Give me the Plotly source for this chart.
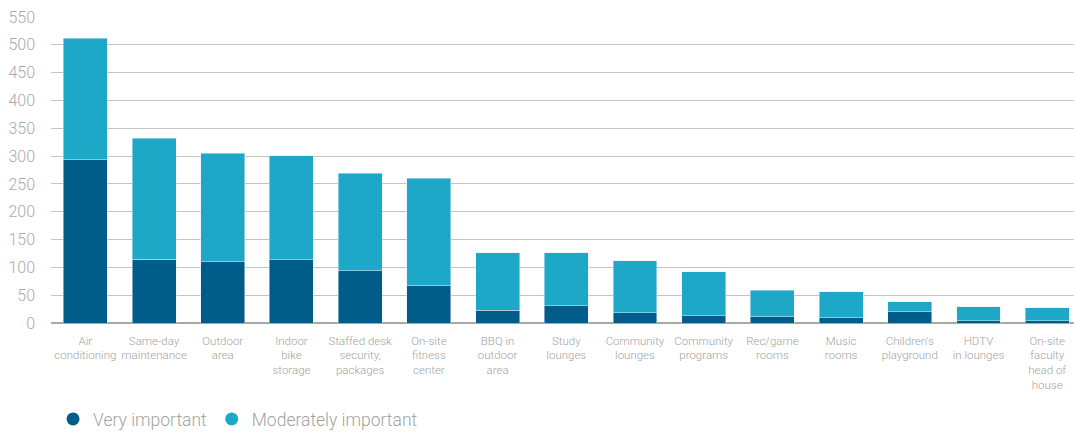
import plotly.graph_objects as go

amenities = [
    "Air<br>conditioning", "Same-day<br>maintenance", "Outdoor<br>area",
    "Indoor<br>bike<br>storage", "Staffed desk<br>security,<br>packages",
    "On-site<br>fitness<br>center", "BBQ in<br>outdoor<br>area", "Study<br>lounges",
    "Community<br>lounges", "Community<br>programs", "Rec/game<br>rooms",
    "Music<br>rooms", "Children's<br>playground", "HDTV<br>in lounges",
    "On-site<br>faculty<br>head of<br>house",
]
very_important = [293, 115, 110, 114, 94, 67, 23, 31, 18, 13, 11, 9, 20, 4, 4]
moderately_important = [219, 217, 195, 187, 175, 193, 103, 95, 94, 79, 48, 47, 18, 25, 23]

dark = "#005c88"
light = "#1ea8c8"
grey = "#a3a3a3"

fig = go.Figure()
fig.add_trace(go.Bar(x=amenities, y=very_important, name="Very important",
                     marker_color=dark, width=0.64, showlegend=False))
fig.add_trace(go.Bar(x=amenities, y=moderately_important, name="Moderately important",
                     marker_color=light, width=0.64, showlegend=False))
# circle markers for the legend
for name, col in [("Very important", dark), ("Moderately important", light)]:
    fig.add_trace(go.Scatter(x=[None], y=[None], mode="markers", name=name,
                             marker=dict(color=col, size=13, symbol="circle")))

fig.update_layout(
    barmode="stack",
    width=1074, height=433,
    margin=dict(l=51, r=0, t=17, b=110, autoexpand=False),
    plot_bgcolor="white", paper_bgcolor="white",
    font=dict(family="Roboto, sans-serif", color=grey, weight=300),
    legend=dict(orientation="h", x=0.002, y=-0.255, xanchor="left", yanchor="top",
                traceorder="normal", font=dict(size=17.5, color=grey, weight=300),
                itemwidth=30),
)
fig.update_xaxes(range=[-0.5, 14.39], showgrid=False, ticks="", showline=False,
                 automargin=False, tickangle=0, ticklabelstandoff=9,
                 tickfont=dict(size=11.5, color=grey, weight=300))
fig.update_yaxes(range=[0, 550], dtick=50, gridcolor="#c4c4c4", gridwidth=1,
                 zeroline=True, zerolinecolor="#a8a8a8", zerolinewidth=2,
                 automargin=False, ticklabelstandoff=15,
                 tickfont=dict(size=16, color="#aaaaaa", weight=300))

fig.write_html("out.html", config={"displayModeBar": False},
               post_script="document.body.style.margin='0';")
